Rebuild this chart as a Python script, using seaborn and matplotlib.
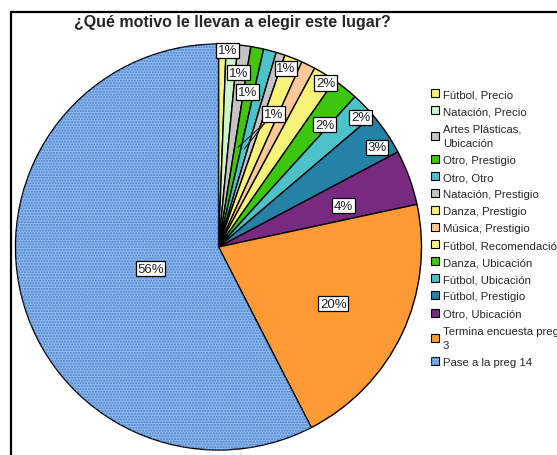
import matplotlib
matplotlib.use("Agg")
import matplotlib.pyplot as plt
from matplotlib.patches import Wedge, Patch, Rectangle
import numpy as np
import seaborn as sns

sns.set_theme(style="white")
plt.rcParams['font.family'] = ['Liberation Sans', 'DejaVu Sans']

# ---- data ----
categories = [
    "Fútbol, Precio", "Natación, Precio", "Artes Plásticas,\nUbicación",
    "Otro, Prestigio", "Otro, Otro", "Natación, Prestigio", "Danza, Prestigio",
    "Música, Prestigio", "Fútbol, Recomendación", "Danza, Ubicación",
    "Fútbol, Ubicación", "Fútbol, Prestigio", "Otro, Ubicación",
    "Termina encuesta preg\n3", "Pase a la preg 14",
]
percents = [0.6, 0.9, 1.0, 1.0, 1.0, 0.7, 1.4, 1.1, 1.8, 2.0, 2.0, 3.4, 4.3, 20.4, 56.4]
show_label = [True, True, True, False, False, True, True, False, True, True, True, True, True, True, True]

# ---- style ----
colors = ["#F7F27A", "#CCF5CC", "#C4C4C4", "#44C40A", "#4CC3C9", "#C4C4C4",
          "#F7F27A", "#FFC89B", "#F7F27A", "#3CC70E", "#4CC3C9", "#2482A6",
          "#782A80", "#FF9A35", "#8DBAF0"]
label_r = [0.97, 0.86, 0.77, 0, 0, 0.94, 0.71, 0, 0.96, 0.79, 0.94, 0.92, 0.64, 0.62, 0.35]
label_off = [(5, 0), (8, 0), (9, 0), (0, 0), (0, 0), (9, -3), (2, -1), (0, 0),
             (5, -2), (6, -3), (5, -3), (4, -5), (3, -3), (1, -3), (1, -5)]
leader_from = 6          # label that carries leader lines
leader_to = [3, 4]       # slices the leader lines point into

W, H = 557, 456
fig = plt.figure(figsize=(W / 100, H / 100), dpi=100)
fig.patch.set_facecolor("white")

cx, cy, R = 218.5, 248, 203
ax = fig.add_axes([(cx - R) / W, (H - cy - R) / H, 2 * R / W, 2 * R / H])

wedges, _ = ax.pie(percents, colors=colors, startangle=90, counterclock=False,
                   radius=1, wedgeprops=dict(edgecolor="black", linewidth=1.0))
ax.set_xlim(-1, 1)
ax.set_ylim(-1, 1)
ax.set_aspect("equal")
ax.axis("off")

# hatched overlay for the last slice
wl = wedges[-1]
overlay = Wedge(wl.center, wl.r, wl.theta1, wl.theta2, facecolor="none",
                edgecolor="#4E7EC6", hatch="......", linewidth=0)
ax.add_patch(overlay)

def mid(w, r):
    a = np.deg2rad((w.theta1 + w.theta2) / 2)
    return r * np.cos(a), r * np.sin(a)

# leader lines
lx, ly = mid(wedges[leader_from], label_r[leader_from])
lx += (label_off[leader_from][0] - 8) / R
ly += (label_off[leader_from][1] - 8) / R
for j in leader_to:
    tx, ty = mid(wedges[j], 0.5)
    ax.plot([lx, tx], [ly, ty], color="#222222", lw=0.8, zorder=5)

# percentage labels
for w, v, show, r, off in zip(wedges, percents, show_label, label_r, label_off):
    if not show:
        continue
    x, y = mid(w, r)
    ax.annotate(f"{round(v)}%", (x, y), xytext=off, textcoords="offset pixels",
                ha="center", va="center", fontsize=9.5, color="#222222", zorder=6,
                bbox=dict(boxstyle="square,pad=0.12", fc="white", ec="black", lw=0.9))

# title
fig.text(232 / W, 1 - 23 / H, "¿Qué motivo le llevan a elegir este lugar?",
         ha="center", va="center", fontsize=11.5, fontweight="bold")

# legend
handles = []
for i, c in enumerate(colors):
    base = Patch(facecolor=c, edgecolor="black", linewidth=0.8)
    if i == len(colors) - 1:
        handles.append((base, Patch(facecolor="none", edgecolor="#4E7EC6", hatch="......", linewidth=0)))
    else:
        handles.append(base)
leg = fig.legend(handles, categories, loc="upper left", bbox_to_anchor=(431 / W, 1 - 90 / H),
                 frameon=False, fontsize=8.2, handlelength=0.7, handleheight=0.7,
                 handletextpad=0.35, labelspacing=0.62, borderaxespad=0, borderpad=0)
for t in leg.get_texts():
    t.set_linespacing(1.6)

# outer frame
fig.add_artist(Rectangle((11 / W, -0.1), 1.2, 1 - 13 / H + 0.1, transform=fig.transFigure,
                         fill=False, edgecolor="black", linewidth=1.6))

fig.savefig("out.png", dpi=100)
